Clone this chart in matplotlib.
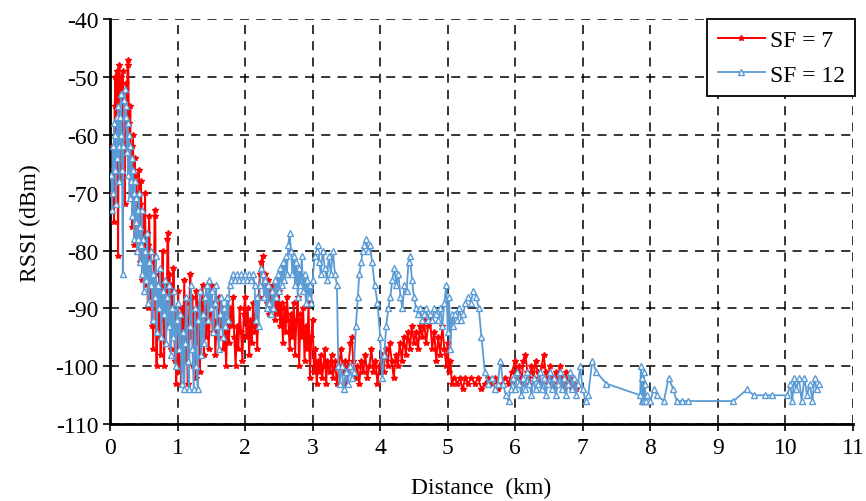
import matplotlib
matplotlib.use("Agg")
import matplotlib.pyplot as plt

# ---- data ----
sf7_x = [0.03,0.05,0.06,0.07,0.08,0.09,0.10,0.11,0.12,0.13,0.14,0.15,0.16,0.17,0.18,0.19,0.20,0.21,0.22,0.23,
         0.24,0.25,0.26,0.27,0.28,0.29,0.30,0.31,0.32,0.33,0.34,0.35,0.36,0.37,0.38,0.39,0.40,0.41,0.42,0.43,
         0.44,0.45,0.46,0.47,0.48,0.49,0.50,0.52,0.53,0.55,0.56,0.57,0.58,0.60,0.61,0.62,0.63,0.64,0.66,0.67,
         0.68,0.69,0.70,0.72,0.73,0.75,0.76,0.78,0.79,0.80,0.82,0.84,0.85,0.86,0.87,0.88,0.90,0.91,0.93,0.94,
         0.96,0.97,0.98,1.00,1.01,1.02,1.04,1.05,1.07,1.08,1.10,1.12,1.13,1.15,1.17,1.19,1.20,1.22,1.23,1.25,
         1.27,1.28,1.30,1.32,1.33,1.35,1.37,1.39,1.40,1.42,1.44,1.46,1.48,1.50,1.52,1.54,1.56,1.58,1.60,1.62,
         1.64,1.66,1.68,1.70,1.72,1.74,1.76,1.78,1.80,1.82,1.84,1.86,1.88,1.90,1.92,1.94,1.96,1.98,2.00,2.02,
         2.04,2.06,2.08,2.10,2.12,2.14,2.16,2.18,2.20,2.22,2.24,2.26,2.28,2.30,2.32,2.34,2.36,2.38,2.40,2.42,
         2.44,2.46,2.48,2.50,2.52,2.54,2.56,2.58,2.60,2.62,2.64,2.66,2.68,2.70,2.72,2.74,2.76,2.78,2.80,2.82,
         2.84,2.86,2.88,2.90,2.92,2.94,2.96,2.98,3.00,3.02,3.04,3.06,3.08,3.10,3.12,3.14,3.16,3.18,3.20,3.22,
         3.25,3.28,3.30,3.33,3.36,3.39,3.42,3.45,3.48,3.50,3.53,3.56,3.58,3.60,3.63,3.66,3.69,3.72,3.75,3.78,
         3.81,3.84,3.87,3.90,3.93,3.96,3.99,4.02,4.05,4.08,4.11,4.14,4.17,4.20,4.23,4.26,4.29,4.32,4.35,4.38,
         4.41,4.44,4.47,4.50,4.53,4.56,4.59,4.62,4.65,4.68,4.71,4.74,4.77,4.80,4.83,4.86,4.89,4.92,4.95,4.98,
         5.00,5.02,5.04,5.06,5.10,5.14,5.18,5.22,5.26,5.30,5.35,5.40,5.45,5.50,5.55,5.60,5.65,5.70,5.75,5.80,
         5.85,5.90,5.95,6.00,6.03,6.06,6.09,6.12,6.15,6.18,6.21,6.24,6.27,6.30,6.33,6.36,6.39,6.42,6.45,6.48,
         6.51,6.54,6.57,6.60,6.63,6.66,6.69,6.72,6.75,6.78,6.81,6.84,6.87,6.90]
sf7_y = [-70,-62,-75,-55,-50,-66,-49,-58,-81,-52,-48,-60,-50,-68,-53,-49,-63,-57,-72,-55,
         -51,-60,-48,-47,-58,-66,-55,-70,-62,-76,-60,-68,-79,-64,-73,-67,-80,-70,-76,-66,
         -82,-72,-68,-78,-85,-74,-80,-70,-86,-77,-90,-79,-74,-88,-82,-93,-85,-97,-74,-73,
         -90,-100,-86,-95,-84,-98,-89,-80,-92,-100,-88,-93,-78,-77,-90,-84,-97,-86,-94,-83,
         -99,-91,-103,-95,-87,-101,-92,-103,-90,-97,-85,-99,-89,-103,-92,-84,-95,-88,-100,-91,
         -102,-87,-96,-89,-101,-93,-86,-98,-90,-95,-88,-97,-91,-86,-94,-89,-98,-92,-95,-88,
         -93,-90,-97,-94,-100,-92,-96,-90,-93,-88,-95,-100,-93,-97,-90,-94,-99,-91,-88,-95,
         -90,-98,-92,-96,-89,-94,-91,-97,-88,-84,-82,-81,-86,-84,-89,-85,-91,-87,-90,-86,
         -92,-88,-91,-87,-93,-89,-96,-90,-94,-88,-92,-97,-91,-95,-89,-98,-92,-88,-100,-91,
         -95,-90,-99,-93,-97,-89,-102,-95,-92,-101,-97,-103,-99,-101,-98,-102,-100,-97,-103,-99,
         -101,-98,-102,-99,-103,-100,-97,-101,-99,-103,-100,-96,-95,-99,-102,-100,-103,-99,-101,-98,
         -102,-100,-97,-101,-99,-103,-100,-98,-101,-97,-100,-96,-99,-102,-98,-100,-96,-99,-95,-98,
         -94,-97,-93,-96,-94,-97,-93,-95,-92,-96,-93,-92,-97,-94,-99,-95,-98,-93,-97,-100,
         -96,-101,-99,-103,-102,-103,-102,-104,-102,-103,-102,-103,-102,-104,-103,-102,-103,-102,-104,-103,
         -102,-103,-101,-99,-102,-100,-103,-99,-98,-101,-103,-100,-102,-99,-101,-103,-100,-98,-101,-103,
         -100,-102,-104,-101,-103,-100,-102,-104,-101,-103,-102,-104,-103,-104]

sf12_x = [0.02,0.03,0.04,0.05,0.06,0.07,0.08,0.09,0.10,0.11,0.12,0.13,0.14,0.15,0.16,0.17,0.18,0.19,0.20,0.21,
          0.22,0.23,0.24,0.25,0.26,0.27,0.28,0.29,0.30,0.31,0.32,0.33,0.34,0.35,0.36,0.37,0.38,0.39,0.40,0.41,
          0.42,0.43,0.44,0.45,0.46,0.47,0.48,0.49,0.50,0.52,0.54,0.55,0.57,0.58,0.60,0.61,0.63,0.64,0.66,0.68,
          0.69,0.71,0.73,0.74,0.76,0.78,0.80,0.81,0.83,0.85,0.87,0.88,0.90,0.92,0.94,0.95,0.97,0.99,1.00,1.02,
          1.04,1.06,1.08,1.10,1.11,1.13,1.15,1.17,1.18,1.20,1.22,1.24,1.26,1.28,1.30,1.31,1.33,1.35,1.37,1.39,
          1.41,1.43,1.45,1.47,1.49,1.51,1.53,1.55,1.57,1.59,1.61,1.63,1.65,1.67,1.69,1.71,1.73,1.75,1.77,1.79,
          1.82,1.85,1.88,1.91,1.94,1.97,2.00,2.03,2.06,2.09,2.12,2.14,2.16,2.18,2.20,2.22,2.24,2.26,2.28,2.30,
          2.32,2.34,2.36,2.38,2.40,2.42,2.44,2.46,2.48,2.50,2.52,2.54,2.56,2.58,2.60,2.62,2.64,2.66,2.68,2.70,
          2.72,2.74,2.76,2.78,2.80,2.82,2.84,2.86,2.88,2.90,2.92,2.94,2.96,2.98,3.00,3.03,3.06,3.08,3.10,3.12,
          3.15,3.18,3.21,3.24,3.27,3.30,3.33,3.36,3.38,3.40,3.43,3.46,3.49,3.52,3.55,3.58,3.61,3.64,3.67,3.69,
          3.72,3.74,3.76,3.79,3.82,3.85,3.88,3.92,3.96,4.00,4.03,4.06,4.09,4.12,4.15,4.18,4.21,4.24,4.27,4.30,
          4.33,4.36,4.39,4.42,4.44,4.47,4.50,4.53,4.56,4.59,4.62,4.65,4.68,4.71,4.74,4.77,4.80,4.83,4.86,4.89,
          4.92,4.95,4.98,5.00,5.02,5.04,5.06,5.08,5.11,5.14,5.17,5.20,5.23,5.26,5.30,5.34,5.38,5.42,5.46,5.50,
          5.55,5.60,5.65,5.70,5.74,5.78,5.82,5.86,5.90,5.93,5.96,6.00,6.03,6.06,6.09,6.12,6.15,6.18,6.21,6.24,
          6.27,6.30,6.33,6.36,6.39,6.42,6.45,6.48,6.51,6.54,6.57,6.60,6.63,6.66,6.69,6.72,6.75,6.78,6.81,6.84,
          6.87,6.90,6.93,6.96,7.00,7.04,7.08,7.14,7.20,7.35,7.85,7.86,7.87,7.88,7.89,7.90,7.91,7.92,7.93,7.95,
          8.00,8.05,8.10,8.20,8.27,8.34,8.39,8.47,8.55,9.23,9.43,9.53,9.70,9.80,10.03,10.07,10.10,10.13,10.16,10.20,
          10.24,10.28,10.32,10.36,10.40,10.43,10.46,10.50]
sf12_y = [-67,-73,-62,-70,-58,-66,-60,-72,-57,-64,-55,-62,-68,-57,-53,-60,-66,-84,-62,-54,
          -52,-57,-55,-63,-58,-67,-60,-71,-62,-68,-64,-74,-66,-70,-78,-68,-75,-71,-80,-73,
          -78,-70,-82,-76,-79,-73,-84,-78,-87,-80,-85,-77,-89,-82,-86,-80,-92,-84,-88,-81,
          -94,-86,-90,-83,-95,-87,-91,-85,-96,-88,-93,-86,-98,-90,-95,-87,-100,-92,-89,-97,
          -91,-103,-94,-104,-96,-88,-99,-104,-93,-86,-97,-104,-90,-100,-104,-92,-87,-98,-91,-96,
          -88,-86,-92,-85,-90,-87,-94,-89,-86,-93,-97,-91,-88,-95,-90,-93,-88,-92,-86,-85,
          -84,-85,-84,-85,-84,-85,-84,-85,-84,-85,-84,-86,-92,-88,-93,-86,-83,-84,-88,-85,
          -90,-86,-89,-91,-87,-90,-85,-88,-84,-87,-83,-86,-82,-85,-81,-84,-79,-77,-80,-84,
          -81,-86,-82,-88,-83,-86,-81,-87,-84,-89,-85,-88,-86,-89,-85,-81,-80,-79,-82,-84,
          -80,-83,-85,-81,-84,-80,-84,-86,-100,-103,-100,-104,-101,-103,-100,-102,-101,-93,-88,-84,
          -82,-80,-79,-78,-80,-79,-82,-86,-89,-95,-102,-98,-93,-90,-88,-85,-83,-86,-84,-88,
          -90,-86,-87,-82,-81,-85,-88,-90,-91,-90,-92,-91,-90,-92,-91,-92,-90,-91,-92,-90,
          -93,-89,-86,-94,-88,-97,-91,-93,-91,-92,-90,-92,-91,-89,-88,-89,-87,-88,-90,-95,
          -101,-103,-102,-104,-103,-99,-103,-105,-106,-104,-102,-104,-101,-103,-105,-102,-104,-101,-103,-105,
          -102,-104,-103,-101,-104,-102,-105,-103,-101,-104,-102,-105,-103,-101,-104,-102,-105,-103,-101,-104,
          -102,-105,-103,-100,-104,-106,-105,-99,-101,-103,-105,-100,-106,-102,-106,-101,-106,-103,-106,-105,
          -106,-104,-105,-106,-102,-104,-106,-106,-106,-106,-104,-105,-105,-105,-105,-103,-106,-102,-104,-102,
          -106,-102,-105,-103,-106,-102,-104,-103]

x_ticks = list(range(0, 12))
y_ticks = list(range(-110, -39, 10))

plt.rcParams['font.family'] = ['Liberation Serif', 'DejaVu Serif']
plt.rcParams['axes.unicode_minus'] = False

fig = plt.figure(figsize=(8.66, 5.02), dpi=100)
ax = fig.add_axes([0.127, 0.153, 0.858, 0.807])

red = '#FF0000'
blue = '#5B9BD5'
ax.plot(sf7_x, sf7_y, color=red, lw=1.4, marker='*', ms=4, mec=red, mfc=red,
        label='SF = 7', zorder=3)
ax.plot(sf12_x, sf12_y, color=blue, lw=1.3, marker='^', ms=5, mec=blue, mfc='white',
        mew=1.0, label='SF = 12', zorder=4)

ax.set_xlim(0, 11)
ax.set_ylim(-110, -40)
ax.set_xticks(x_ticks)
ax.set_yticks(y_ticks)
ax.tick_params(axis='both', labelsize=17, direction='out', length=5, width=1.2, colors='black')
ax.tick_params(axis='x', pad=4)

ax.grid(True, color='black', linestyle=(0, (5, 4)), linewidth=1.3, alpha=0.85)
ax.set_axisbelow(True)
for s in ['top', 'right']:
    ax.spines[s].set_visible(False)
for s in ['left', 'bottom']:
    ax.spines[s].set_linewidth(2.0)
    ax.spines[s].set_color('black')

ax.set_xlabel('Distance  (km)', fontsize=17, labelpad=14)
ax.set_ylabel('RSSI (dBm)', fontsize=17, labelpad=10)

leg = ax.legend(loc='upper right', fontsize=17, frameon=True, fancybox=False,
                edgecolor='black', framealpha=1, borderaxespad=0.0, handlelength=2.0,
                borderpad=0.45, labelspacing=0.55, handletextpad=0.2,
                bbox_to_anchor=(1.003, 1.0))
leg.get_frame().set_linewidth(1.3)

fig.savefig('out.png', dpi=100)
